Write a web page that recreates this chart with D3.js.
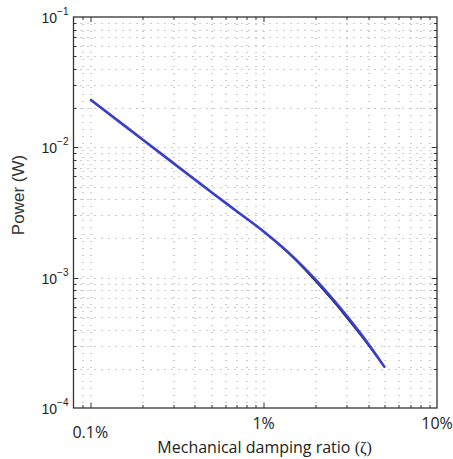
<!DOCTYPE html>
<html>
<head>
<meta charset="utf-8">
<script src="https://d3js.org/d3.v7.min.js"></script>
<style>
    body { margin: 0; background: #fff; }
    svg { display: block; }
</style>
</head>
<body>
<svg id="chart" width="453" height="459"></svg>
<script>
    // damping ratio (fraction) and harvested power (W)
    var damping = [0.001, 0.0015, 0.002, 0.003, 0.004, 0.005, 0.007, 0.01, 0.015, 0.02, 0.025, 0.03, 0.035, 0.04, 0.05];
    var powerBlue = [0.0233, 0.0154, 0.0115, 0.0076, 0.00567, 0.00452, 0.00323, 0.00226, 0.00142, 0.000961, 0.000688, 0.000514, 0.000396, 0.000313, 0.000205];
    var powerBlack = [0.0233, 0.0154, 0.0115, 0.0076, 0.00567, 0.00452, 0.00323, 0.00226, 0.00140, 0.000935, 0.000667, 0.000498, 0.000385, 0.000306, 0.000205];

    var xTicks = [0.001, 0.01, 0.1];
    var xTickLabels = ["0.1%", "1%", "10%"];
    var yTicks = [1e-4, 1e-3, 1e-2, 1e-1];
    var yTickExp = ["\u22124", "\u22123", "\u22122", "\u22121"];

    var margin = { top: 17, right: 16, bottom: 51, left: 73.5 },
        width = 453 - margin.left - margin.right,
        height = 459 - margin.top - margin.bottom;

    var svg = d3.select("#chart");
    var g = svg.append("g").attr("transform", "translate(" + margin.left + "," + margin.top + ")");

    var x = d3.scaleLog().domain([0.0008, 0.1]).range([0, width]);
    var y = d3.scaleLog().domain([1e-4, 1e-1]).range([height, 0]);

    var xMinor = x.ticks().filter(function (d) { return d > 0.00081 && d < 0.0999; });
    var yMinor = y.ticks().filter(function (d) { return d > 1.01e-4 && d < 0.0999; });

    // dotted grid
    var grid = g.append("g").attr("class", "grid")
        .attr("stroke", "#999").attr("stroke-width", 1).attr("stroke-dasharray", "1,6");
    grid.selectAll(".gx").data(xMinor).enter().append("line")
        .attr("x1", function (d) { return Math.round(x(d)) + 0.5; })
        .attr("x2", function (d) { return Math.round(x(d)) + 0.5; })
        .attr("y1", 0).attr("y2", height);
    grid.selectAll(".gy").data(yMinor).enter().append("line")
        .attr("y1", function (d) { return Math.round(y(d)) + 0.5; })
        .attr("y2", function (d) { return Math.round(y(d)) + 0.5; })
        .attr("x1", 0).attr("x2", width);

    // ticks, inward on all four sides
    var isMajor = function (d) { return Math.abs(Math.log10(d) - Math.round(Math.log10(d))) < 1e-6; };
    var ticks = g.append("g").attr("stroke", "#333").attr("stroke-width", 1);
    xMinor.forEach(function (d) {
        var len = isMajor(d) ? 5 : 3, px = Math.round(x(d)) + 0.5;
        ticks.append("line").attr("x1", px).attr("x2", px).attr("y1", height).attr("y2", height - len);
        ticks.append("line").attr("x1", px).attr("x2", px).attr("y1", 0).attr("y2", len);
    });
    yMinor.forEach(function (d) {
        var len = isMajor(d) ? 5 : 3, py = Math.round(y(d)) + 0.5;
        ticks.append("line").attr("y1", py).attr("y2", py).attr("x1", 0).attr("x2", len);
        ticks.append("line").attr("y1", py).attr("y2", py).attr("x1", width).attr("x2", width - len);
    });

    // curves
    var line = d3.line()
        .x(function (d) { return x(d[0]); })
        .y(function (d) { return y(d[1]); })
        .curve(d3.curveMonotoneX);

    g.append("path")
        .datum(d3.zip(damping, powerBlack))
        .attr("fill", "none").attr("stroke", "#111").attr("stroke-width", 1.6)
        .attr("d", line);
    g.append("path")
        .datum(d3.zip(damping, powerBlue))
        .attr("fill", "none").attr("stroke", "#3a3fd0").attr("stroke-width", 2.6)
        .attr("d", line);

    // frame
    g.append("rect")
        .attr("x", 0).attr("y", 0).attr("width", width).attr("height", height)
        .attr("fill", "none").attr("stroke", "#333").attr("stroke-width", 1.3);

    // x tick labels (the first one sits a little lower, as in the original)
    g.selectAll(".xl").data(xTicks).enter().append("text")
        .attr("x", function (d) { return x(d); })
        .attr("y", function (d, i) { return height + (i === 0 ? 30 : 21); })
        .attr("text-anchor", "middle")
        .style("font-family", "'Open Sans', sans-serif")
        .style("font-size", "16px")
        .attr("fill", "#222")
        .text(function (d, i) { return xTickLabels[i]; });

    // y tick labels 10^n
    var yl = g.selectAll(".yl").data(yTicks).enter().append("text")
        .attr("x", -5)
        .attr("y", function (d) { return y(d) + 6; })
        .attr("text-anchor", "end")
        .style("font-family", "'Liberation Sans', Arial, sans-serif")
        .style("font-size", "14px")
        .attr("fill", "#222");
    yl.append("tspan").text("10");
    yl.append("tspan").attr("dy", -8).style("font-size", "10px")
        .text(function (d, i) { return yTickExp[i]; });

    // axis titles
    var xt = svg.append("text")
        .attr("x", margin.left + x(0.01) + 1)
        .attr("y", 453)
        .attr("text-anchor", "middle")
        .style("font-family", "'Open Sans', sans-serif")
        .style("font-size", "16px")
        .attr("fill", "#222");
    xt.append("tspan").text("Mechanical damping ratio ");
    xt.append("tspan").style("font-family", "'Liberation Serif', 'DejaVu Serif', serif").text("(\u03b6)");

    svg.append("text")
        .attr("transform", "translate(24,195) rotate(-90)")
        .attr("text-anchor", "middle")
        .style("font-family", "'Liberation Sans', Arial, sans-serif")
        .style("font-size", "17px")
        .attr("fill", "#333")
        .text("Power (W)");
</script>
</body>
</html>
